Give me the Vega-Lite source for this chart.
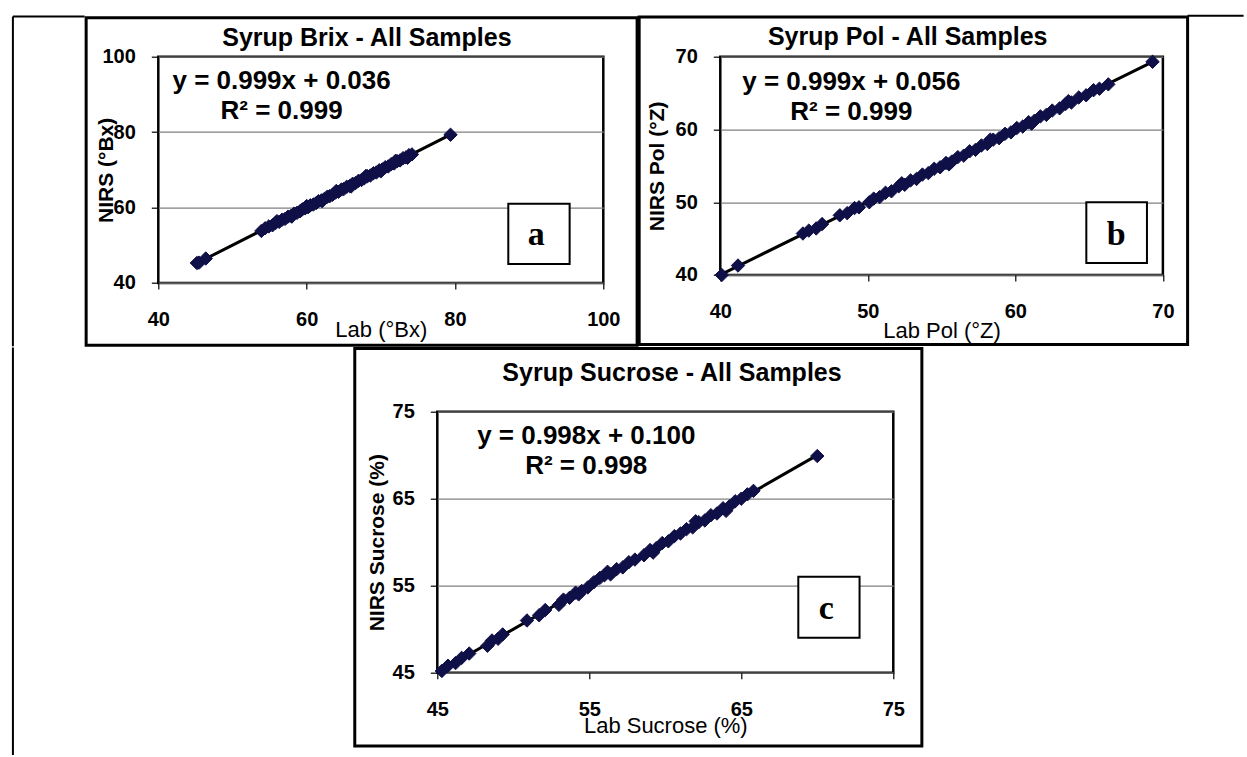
{
  "$schema": "https://vega.github.io/schema/vega-lite/v6.json",
  "background": "white",
  "padding": {"left": 10.3, "top": 12.7, "right": 0, "bottom": 0},
  "config": {
    "font": "Liberation Sans",
    "view": {"stroke": "black", "strokeWidth": 2.5},
    "axis": {"labelFont": "Liberation Sans", "labelFontWeight": "bold", "labelFontSize": 20, "labelColor": "black", "tickColor": "black", "tickWidth": 1.2, "domain": false, "labelFlush": false, "labelOverlap": false, "titleColor": "black", "titleFont": "Liberation Sans", "gridColor": "#808080", "gridWidth": 1.2, "gridOpacity": 1},
    "axisX": {"grid": false, "tickSize": 6, "labelPadding": 21, "titleFontWeight": "normal", "titleFontSize": 22},
    "axisY": {"grid": true, "tickSize": 7, "labelPadding": 16, "titleFontWeight": "bold", "titleFontSize": 21}
  },
  "datasets": {
    "brix": [
      {"lab": 45.2, "nirs": 45.3}, {"lab": 45.5, "nirs": 45.4}, {"lab": 46.4, "nirs": 46.5}, {"lab": 53.9, "nirs": 53.8},
      {"lab": 54.4, "nirs": 54.5}, {"lab": 54.9, "nirs": 55.0}, {"lab": 55.4, "nirs": 55.3}, {"lab": 55.8, "nirs": 55.9},
      {"lab": 56.3, "nirs": 56.2}, {"lab": 56.7, "nirs": 56.8}, {"lab": 57.1, "nirs": 57.0}, {"lab": 57.5, "nirs": 57.6},
      {"lab": 57.9, "nirs": 57.8}, {"lab": 58.3, "nirs": 58.4}, {"lab": 58.7, "nirs": 58.6}, {"lab": 59.1, "nirs": 59.0},
      {"lab": 59.4, "nirs": 59.5}, {"lab": 59.8, "nirs": 59.8}, {"lab": 60.2, "nirs": 60.1}, {"lab": 60.5, "nirs": 60.6},
      {"lab": 60.9, "nirs": 60.8}, {"lab": 61.3, "nirs": 61.2}, {"lab": 61.6, "nirs": 61.7}, {"lab": 62.0, "nirs": 61.9},
      {"lab": 62.4, "nirs": 62.3}, {"lab": 62.8, "nirs": 62.9}, {"lab": 63.1, "nirs": 63.0}, {"lab": 63.5, "nirs": 63.4},
      {"lab": 63.9, "nirs": 64.0}, {"lab": 64.3, "nirs": 64.2}, {"lab": 64.7, "nirs": 64.8}, {"lab": 65.0, "nirs": 64.9},
      {"lab": 65.4, "nirs": 65.5}, {"lab": 65.8, "nirs": 65.7}, {"lab": 66.2, "nirs": 66.3}, {"lab": 66.6, "nirs": 66.5},
      {"lab": 67.0, "nirs": 67.1}, {"lab": 67.4, "nirs": 67.3}, {"lab": 67.8, "nirs": 67.8}, {"lab": 68.2, "nirs": 68.3},
      {"lab": 68.6, "nirs": 68.5}, {"lab": 69.0, "nirs": 69.1}, {"lab": 69.4, "nirs": 69.3}, {"lab": 69.8, "nirs": 69.9},
      {"lab": 70.2, "nirs": 70.1}, {"lab": 70.6, "nirs": 70.7}, {"lab": 71.0, "nirs": 70.9}, {"lab": 71.4, "nirs": 71.5},
      {"lab": 71.8, "nirs": 71.7}, {"lab": 72.2, "nirs": 72.3}, {"lab": 72.6, "nirs": 72.5}, {"lab": 73.0, "nirs": 73.1},
      {"lab": 73.4, "nirs": 73.3}, {"lab": 73.8, "nirs": 73.9}, {"lab": 74.2, "nirs": 74.1}, {"lab": 79.4, "nirs": 79.3},
      {"lab": 56.0, "nirs": 56.4}, {"lab": 58.0, "nirs": 57.6}, {"lab": 60.0, "nirs": 60.4}, {"lab": 62.1, "nirs": 61.7},
      {"lab": 64.0, "nirs": 64.4}, {"lab": 66.0, "nirs": 65.6}, {"lab": 68.0, "nirs": 68.4}, {"lab": 70.0, "nirs": 69.6},
      {"lab": 72.0, "nirs": 72.4}, {"lab": 73.6, "nirs": 73.2}
    ],
    "pol": [
      {"lab": 40.1, "nirs": 40.0}, {"lab": 41.2, "nirs": 41.3}, {"lab": 45.6, "nirs": 45.7}, {"lab": 46.0, "nirs": 46.1},
      {"lab": 46.5, "nirs": 46.4}, {"lab": 46.9, "nirs": 47.0}, {"lab": 48.1, "nirs": 48.2}, {"lab": 48.6, "nirs": 48.5},
      {"lab": 49.1, "nirs": 49.2}, {"lab": 49.4, "nirs": 49.3}, {"lab": 50.1, "nirs": 50.0}, {"lab": 50.4, "nirs": 50.5},
      {"lab": 50.8, "nirs": 50.7}, {"lab": 51.2, "nirs": 51.3}, {"lab": 51.6, "nirs": 51.5}, {"lab": 52.1, "nirs": 52.2},
      {"lab": 52.5, "nirs": 52.4}, {"lab": 52.9, "nirs": 53.0}, {"lab": 53.3, "nirs": 53.2}, {"lab": 53.7, "nirs": 53.8},
      {"lab": 54.1, "nirs": 54.0}, {"lab": 54.5, "nirs": 54.6}, {"lab": 54.9, "nirs": 54.8}, {"lab": 55.3, "nirs": 55.4},
      {"lab": 55.7, "nirs": 55.6}, {"lab": 56.1, "nirs": 56.2}, {"lab": 56.5, "nirs": 56.4}, {"lab": 56.9, "nirs": 57.0},
      {"lab": 57.3, "nirs": 57.2}, {"lab": 57.7, "nirs": 57.8}, {"lab": 58.1, "nirs": 58.0}, {"lab": 58.5, "nirs": 58.6},
      {"lab": 58.9, "nirs": 58.8}, {"lab": 59.3, "nirs": 59.4}, {"lab": 59.7, "nirs": 59.6}, {"lab": 60.1, "nirs": 60.2},
      {"lab": 60.5, "nirs": 60.4}, {"lab": 60.9, "nirs": 61.0}, {"lab": 61.3, "nirs": 61.2}, {"lab": 61.7, "nirs": 61.8},
      {"lab": 62.1, "nirs": 62.0}, {"lab": 62.5, "nirs": 62.6}, {"lab": 63.0, "nirs": 62.9}, {"lab": 63.4, "nirs": 63.5},
      {"lab": 63.8, "nirs": 63.7}, {"lab": 64.3, "nirs": 64.4}, {"lab": 64.8, "nirs": 64.7}, {"lab": 65.3, "nirs": 65.4},
      {"lab": 65.7, "nirs": 65.6}, {"lab": 66.3, "nirs": 66.2}, {"lab": 69.3, "nirs": 69.3},
      {"lab": 52.3, "nirs": 52.6}, {"lab": 55.5, "nirs": 55.2}, {"lab": 58.3, "nirs": 58.6}, {"lab": 61.1, "nirs": 60.8}, {"lab": 63.6, "nirs": 63.9}
    ],
    "sucrose": [
      {"lab": 45.3, "nirs": 45.2}, {"lab": 45.7, "nirs": 45.8}, {"lab": 46.2, "nirs": 46.1}, {"lab": 46.6, "nirs": 46.7},
      {"lab": 47.1, "nirs": 47.2}, {"lab": 48.3, "nirs": 48.1}, {"lab": 48.6, "nirs": 48.7}, {"lab": 49.0, "nirs": 48.9},
      {"lab": 49.3, "nirs": 49.4}, {"lab": 50.9, "nirs": 51.0}, {"lab": 51.7, "nirs": 51.6}, {"lab": 52.1, "nirs": 52.2},
      {"lab": 53.0, "nirs": 52.8}, {"lab": 53.3, "nirs": 53.4}, {"lab": 53.7, "nirs": 53.6}, {"lab": 54.1, "nirs": 54.2},
      {"lab": 54.5, "nirs": 54.4}, {"lab": 54.9, "nirs": 54.8}, {"lab": 55.3, "nirs": 55.4}, {"lab": 55.7, "nirs": 55.9},
      {"lab": 56.0, "nirs": 56.2}, {"lab": 56.4, "nirs": 56.3}, {"lab": 56.8, "nirs": 56.9}, {"lab": 57.2, "nirs": 57.1},
      {"lab": 57.6, "nirs": 57.7}, {"lab": 58.0, "nirs": 58.0}, {"lab": 58.6, "nirs": 58.5}, {"lab": 59.0, "nirs": 59.1},
      {"lab": 59.4, "nirs": 59.3}, {"lab": 59.8, "nirs": 59.9}, {"lab": 60.2, "nirs": 60.1}, {"lab": 60.6, "nirs": 60.7},
      {"lab": 61.0, "nirs": 61.0}, {"lab": 61.4, "nirs": 61.5}, {"lab": 61.8, "nirs": 61.7}, {"lab": 62.2, "nirs": 62.3},
      {"lab": 62.6, "nirs": 62.5}, {"lab": 63.0, "nirs": 63.1}, {"lab": 63.4, "nirs": 63.3}, {"lab": 63.8, "nirs": 63.9},
      {"lab": 64.2, "nirs": 64.1}, {"lab": 64.6, "nirs": 64.7}, {"lab": 65.0, "nirs": 65.0}, {"lab": 65.4, "nirs": 65.5},
      {"lab": 65.8, "nirs": 65.9}, {"lab": 70.0, "nirs": 69.9},
      {"lab": 54.3, "nirs": 54.0}, {"lab": 56.2, "nirs": 56.6}, {"lab": 59.2, "nirs": 58.8}, {"lab": 62.0, "nirs": 62.4}, {"lab": 64.0, "nirs": 63.6}
    ]
  },
  "concat": [
    {
      "spacing": -4,
      "hconcat": [
        {"width": 1, "height": 1, "data": {"values": []}, "mark": "point", "view": {"stroke": null}},
        {
          "width": 445, "height": 226.3,
          "encoding": {
            "x": {"type": "quantitative", "scale": {"domain": [40, 100], "nice": false, "zero": false}, "axis": {"title": "Lab (°Bx)", "values": [40, 60, 80, 100], "titlePadding": -10.8}},
            "y": {"type": "quantitative", "scale": {"domain": [40, 100], "nice": false, "zero": false}, "axis": {"title": "NIRS (°Bx)", "values": [40, 60, 80, 100], "titlePadding": -15}}
          },
          "layer": [
            {"data": {"values": [{}]}, "mark": {"type": "rule", "color": "black", "strokeWidth": 2},
             "encoding": {"x": {"datum": 20.395}, "x2": {"datum": 30.063}, "y": {"datum": 110.684}}},
            {"data": {"values": [{}]}, "mark": {"type": "rule", "color": "black", "strokeWidth": 2},
             "encoding": {"x": {"datum": 20.395}, "y": {"datum": 110.684}, "y2": {"datum": 23.245}}},
            {"data": {"values": [{}]}, "mark": {"type": "rect", "filled": false, "color": "black", "strokeWidth": 3},
             "encoding": {"x": {"datum": 30.27}, "x2": {"datum": 104.56}, "y": {"datum": 110.34}, "y2": {"datum": 23.51}}},
            {"data": {"values": [{"title": "Syrup Brix - All Samples"}]}, "mark": {"type": "text", "fontWeight": "bold", "fontSize": 25, "align": "left", "baseline": "alphabetic", "color": "black"},
             "encoding": {"text": {"field": "title"}, "x": {"datum": 48.63}, "y": {"datum": 102.92}}},
            {"data": {"values": [{}]}, "mark": {"type": "rect", "fill": "white", "stroke": "black", "strokeWidth": 2},
             "encoding": {"x": {"datum": 87.19}, "x2": {"datum": 95.46}, "y": {"datum": 61.02}, "y2": {"datum": 45.04}}},
            {"data": {"values": [{"letter": "a"}]}, "mark": {"type": "text", "font": "Liberation Serif", "fontWeight": "bold", "fontSize": 34, "align": "center", "baseline": "alphabetic", "color": "black"},
             "encoding": {"text": {"field": "letter"}, "x": {"datum": 90.97}, "y": {"datum": 50.1}}},
            {"data": {"values": [{"eq": "y = 0.999x + 0.036\nR² = 0.999"}]}, "mark": {"type": "text", "fontWeight": "bold", "fontSize": 26, "align": "center", "baseline": "alphabetic", "lineBreak": "\n", "lineHeight": 30, "color": "black"},
             "encoding": {"text": {"field": "eq"}, "x": {"datum": 56.62}, "y": {"datum": 91.51}}},
            {"data": {"name": "brix"}, "transform": [{"regression": "nirs", "on": "lab"}], "mark": {"type": "line", "color": "black", "strokeWidth": 3},
             "encoding": {"x": {"field": "lab"}, "y": {"field": "nirs"}}},
            {"data": {"name": "brix"}, "mark": {"type": "point", "shape": "diamond", "filled": true, "size": 180, "color": "#101048", "stroke": "#101048", "strokeWidth": 1, "opacity": 1},
             "encoding": {"x": {"field": "lab"}, "y": {"field": "nirs"}}}
          ]
        },
        {
          "width": 442.6, "height": 218.3,
          "encoding": {
            "x": {"type": "quantitative", "scale": {"domain": [40, 70], "nice": false, "zero": false}, "axis": {"title": "Lab Pol (°Z)", "values": [40, 50, 60, 70], "titlePadding": -1.5}},
            "y": {"type": "quantitative", "scale": {"domain": [40, 70], "nice": false, "zero": false}, "axis": {"title": "NIRS Pol (°Z)", "values": [40, 50, 60, 70], "titlePadding": 7.8}}
          },
          "layer": [
            {"data": {"values": [{}]}, "mark": {"type": "rule", "color": "black", "strokeWidth": 2},
             "encoding": {"x": {"datum": 71.675}, "x2": {"datum": 75.47}, "y": {"datum": 75.634}}},
            {"data": {"values": [{}]}, "mark": {"type": "rect", "filled": false, "color": "black", "strokeWidth": 3},
             "encoding": {"x": {"datum": 34.5}, "x2": {"datum": 71.675}, "y": {"datum": 75.455}, "y2": {"datum": 30.449}}},
            {"data": {"values": [{"title": "Syrup Pol - All Samples"}]}, "mark": {"type": "text", "fontWeight": "bold", "fontSize": 25, "align": "left", "baseline": "alphabetic", "color": "black"},
             "encoding": {"text": {"field": "title"}, "x": {"datum": 43.23}, "y": {"datum": 71.61}}},
            {"data": {"values": [{}]}, "mark": {"type": "rect", "fill": "white", "stroke": "black", "strokeWidth": 2},
             "encoding": {"x": {"datum": 64.81}, "x2": {"datum": 68.92}, "y": {"datum": 49.99}, "y2": {"datum": 41.65}}},
            {"data": {"values": [{"letter": "b"}]}, "mark": {"type": "text", "font": "Liberation Serif", "fontWeight": "bold", "fontSize": 34, "align": "center", "baseline": "alphabetic", "color": "black"},
             "encoding": {"text": {"field": "letter"}, "x": {"datum": 66.84}, "y": {"datum": 44.12}}},
            {"data": {"values": [{"eq": "y = 0.999x + 0.056\nR² = 0.999"}]}, "mark": {"type": "text", "fontWeight": "bold", "fontSize": 26, "align": "center", "baseline": "alphabetic", "lineBreak": "\n", "lineHeight": 30, "color": "black"},
             "encoding": {"text": {"field": "eq"}, "x": {"datum": 48.88}, "y": {"datum": 65.42}}},
            {"data": {"name": "pol"}, "transform": [{"regression": "nirs", "on": "lab"}], "mark": {"type": "line", "color": "black", "strokeWidth": 3},
             "encoding": {"x": {"field": "lab"}, "y": {"field": "nirs"}}},
            {"data": {"name": "pol"}, "mark": {"type": "point", "shape": "diamond", "filled": true, "size": 180, "color": "#101048", "stroke": "#101048", "strokeWidth": 1, "opacity": 1},
             "encoding": {"x": {"field": "lab"}, "y": {"field": "nirs"}}}
          ]
        }
      ]
    },
    {
      "spacing": -4,
      "hconcat": [
        {"width": 1, "height": 1, "data": {"values": []}, "mark": "point", "view": {"stroke": null}},
        {
          "width": 456, "height": 261,
          "encoding": {
            "x": {"type": "quantitative", "scale": {"domain": [45, 75], "nice": false, "zero": false}, "axis": {"title": "Lab Sucrose (%)", "values": [45, 55, 65, 75], "titlePadding": -4}},
            "y": {"type": "quantitative", "scale": {"domain": [45, 75], "nice": false, "zero": false}, "axis": {"title": "NIRS Sucrose (%)", "values": [45, 55, 65, 75], "titlePadding": 4.5}}
          },
          "layer": [
            {"data": {"values": [{}]}, "mark": {"type": "rule", "color": "black", "strokeWidth": 2},
             "encoding": {"x": {"datum": 17.08}, "y": {"datum": 82.379}, "y2": {"datum": 35.54}}},
            {"data": {"values": [{}]}, "mark": {"type": "rect", "filled": false, "color": "black", "strokeWidth": 3},
             "encoding": {"x": {"datum": 39.57}, "x2": {"datum": 76.88}, "y": {"datum": 82.26}, "y2": {"datum": 36.575}}},
            {"data": {"values": [{"title": "Syrup Sucrose - All Samples"}]}, "mark": {"type": "text", "fontWeight": "bold", "fontSize": 25, "align": "left", "baseline": "alphabetic", "color": "black"},
             "encoding": {"text": {"field": "title"}, "x": {"datum": 49.28}, "y": {"datum": 78.53}}},
            {"data": {"values": [{}]}, "mark": {"type": "rect", "fill": "white", "stroke": "black", "strokeWidth": 2},
             "encoding": {"x": {"datum": 68.75}, "x2": {"datum": 72.78}, "y": {"datum": 56.03}, "y2": {"datum": 49.02}}},
            {"data": {"values": [{"letter": "c"}]}, "mark": {"type": "text", "font": "Liberation Serif", "fontWeight": "bold", "fontSize": 34, "align": "center", "baseline": "alphabetic", "color": "black"},
             "encoding": {"text": {"field": "letter"}, "x": {"datum": 70.59}, "y": {"datum": 51.14}}},
            {"data": {"values": [{"eq": "y = 0.998x + 0.100\nR² = 0.998"}]}, "mark": {"type": "text", "fontWeight": "bold", "fontSize": 26, "align": "center", "baseline": "alphabetic", "lineBreak": "\n", "lineHeight": 30, "color": "black"},
             "encoding": {"text": {"field": "eq"}, "x": {"datum": 54.8}, "y": {"datum": 71.29}}},
            {"data": {"name": "sucrose"}, "transform": [{"regression": "nirs", "on": "lab"}], "mark": {"type": "line", "color": "black", "strokeWidth": 3},
             "encoding": {"x": {"field": "lab"}, "y": {"field": "nirs"}}},
            {"data": {"name": "sucrose"}, "mark": {"type": "point", "shape": "diamond", "filled": true, "size": 180, "color": "#101048", "stroke": "#101048", "strokeWidth": 1, "opacity": 1},
             "encoding": {"x": {"field": "lab"}, "y": {"field": "nirs"}}}
          ]
        }
      ]
    }
  ],
  "columns": 1,
  "align": "none",
  "spacing": -4
}
